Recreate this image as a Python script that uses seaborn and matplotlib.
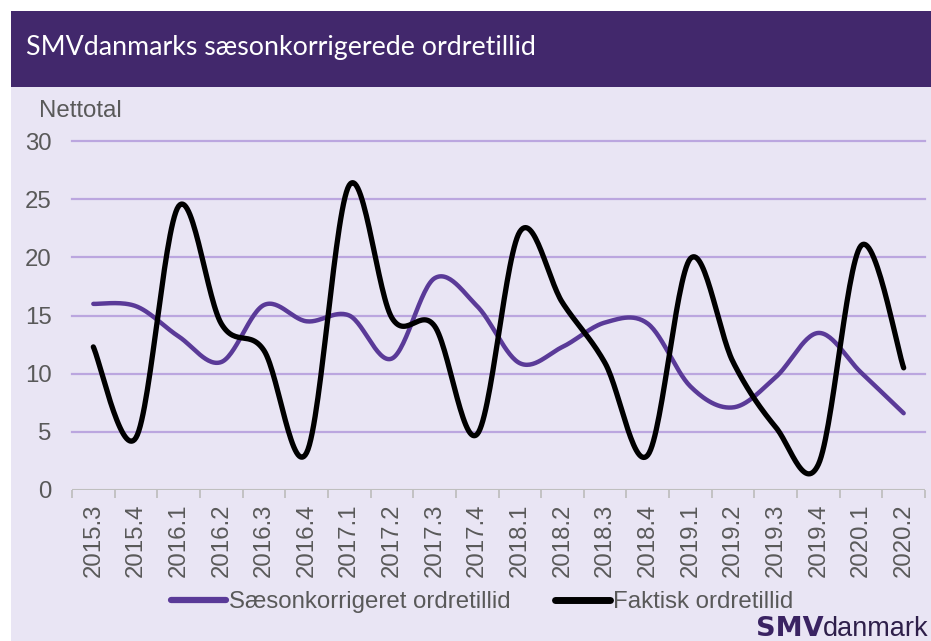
import numpy as np
import pandas as pd
import matplotlib
matplotlib.use("Agg")
import matplotlib.pyplot as plt
import seaborn as sns
from matplotlib.patches import Rectangle
from matplotlib.lines import Line2D

# ---- data ----
quarters = ["2015.3", "2015.4", "2016.1", "2016.2", "2016.3", "2016.4",
            "2017.1", "2017.2", "2017.3", "2017.4", "2018.1", "2018.2",
            "2018.3", "2018.4", "2019.1", "2019.2", "2019.3", "2019.4",
            "2020.1", "2020.2"]
saeson = [16.0, 15.8, 13.2, 11.0, 15.9, 14.5, 15.0, 11.3, 18.2, 15.8,
          10.9, 12.3, 14.4, 14.3, 8.9, 7.1, 9.7, 13.5, 10.1, 6.6]
faktisk = [12.3, 4.5, 24.4, 14.3, 12.0, 3.2, 26.2, 14.8, 14.1, 4.8,
           22.2, 16.1, 10.9, 3.0, 19.9, 11.0, 5.4, 2.2, 21.0, 10.5]
series_names = ["Sæsonkorrigeret ordretillid", "Faktisk ordretillid"]
yticks = [0, 5, 10, 15, 20, 25, 30]

title = "SMVdanmarks sæsonkorrigerede ordretillid"
ylabel = "Nettotal"

# ---- colours ----
HEADER = "#42286C"
BG = "#E9E5F4"
PURPLE = "#5A3A98"
GRID = "#BBA6DF"
TEXT = "#595959"
FS = 17.3


def smooth(values, n=30):
    """Catmull-Rom style smoothing like a spreadsheet's smoothed line."""
    p = np.asarray(values, dtype=float)
    x = np.arange(len(p), dtype=float)
    xs, ys = [], []
    for i in range(len(p) - 1):
        p0 = p[i - 1] if i > 0 else p[i]
        p3 = p[i + 2] if i + 2 < len(p) else p[i + 1]
        x0 = x[i - 1] if i > 0 else x[i]
        x3 = x[i + 2] if i + 2 < len(p) else x[i + 1]
        c1y = p[i] + (p[i + 1] - p0) / 6
        c2y = p[i + 1] - (p3 - p[i]) / 6
        c1x = x[i] + (x[i + 1] - x0) / 6
        c2x = x[i + 1] - (x3 - x[i]) / 6
        t = np.linspace(0, 1, n, endpoint=(i == len(p) - 2))
        b0 = (1 - t) ** 3
        b1 = 3 * (1 - t) ** 2 * t
        b2 = 3 * (1 - t) * t ** 2
        b3 = t ** 3
        xs.append(b0 * x[i] + b1 * c1x + b2 * c2x + b3 * x[i + 1])
        ys.append(b0 * p[i] + b1 * c1y + b2 * c2y + b3 * p[i + 1])
    return np.concatenate(xs), np.concatenate(ys)


frames = []
for name, vals in zip(series_names, [saeson, faktisk]):
    sx, sy = smooth(vals)
    frames.append(pd.DataFrame({"x": sx, "y": sy, "serie": name}))
df = pd.concat(frames, ignore_index=True)

W, H = 931, 641
fig = plt.figure(figsize=(W / 100, H / 100), dpi=100, facecolor="white")

# background panels
fig.patches.append(Rectangle((11 / W, 0), 1 - 11 / W, (H - 87) / H,
                             transform=fig.transFigure, facecolor=BG,
                             edgecolor="none", zorder=-5))
fig.patches.append(Rectangle((11 / W, (H - 87) / H), 1 - 11 / W, 76 / H,
                             transform=fig.transFigure, facecolor=HEADER,
                             edgecolor="none", zorder=-5))
fig.text(26 / W, 1 - 47.5 / H, title, color="white", fontsize=19.3,
         family="Lato", va="center", ha="left")

ax = fig.add_axes([72 / W, (H - 490) / H, (925 - 72) / W, (490 - 141) / H])
ax.set_zorder(2)
ax.set_facecolor("none")

sns.lineplot(data=df, x="x", y="y", hue="serie", sort=False, estimator=None,
             palette={series_names[0]: PURPLE, series_names[1]: "black"},
             ax=ax, legend=False)
for line, lw in zip(ax.lines, [3.2, 3.8]):
    line.set_linewidth(lw)
    line.set_solid_capstyle("round")
    line.set_zorder(3)

ax.set_ylim(0, 30)
ax.set_xlim(-0.5, len(quarters) - 0.5)
ax.set_yticks(yticks)
ax.set_yticklabels([str(v) for v in yticks])
for v in yticks[1:]:
    ax.axhline(v, color=GRID, lw=1.6, zorder=0, clip_on=False)
ax.axhline(0, color="#BFBFBF", lw=1.5, zorder=0.5)

ax.set_xticks(np.arange(len(quarters) + 1) - 0.5)
ax.set_xticklabels([])
ax.set_xticks(np.arange(len(quarters)), minor=True)
ax.set_xticklabels(quarters, minor=True, rotation=90)
ax.tick_params(axis="x", which="major", length=6, width=1.3, color="#BFBFBF")
ax.tick_params(axis="x", which="minor", length=0, pad=10,
               labelsize=FS, labelcolor=TEXT)
ax.tick_params(axis="y", length=0, pad=14.5, labelsize=FS, labelcolor=TEXT)
for lab in ax.get_xticklabels(minor=True) + ax.get_yticklabels():
    lab.set_family("Liberation Sans")
for s in ax.spines.values():
    s.set_visible(False)
ax.set_xlabel("")
ax.set_ylabel("")

fig.text(39 / W, 1 - 111 / H, ylabel, color=TEXT, fontsize=FS,
         family="Liberation Sans", va="center", ha="left")

handles = [Line2D([], [], color=PURPLE, lw=4.5, solid_capstyle="round"),
           Line2D([], [], color="black", lw=5, solid_capstyle="round")]
fig.legend(handles, series_names, loc="center left",
           bbox_to_anchor=(149 / W, 1 - 602 / H), ncol=2, frameon=False,
           handlelength=2.3, handletextpad=0.12, columnspacing=1.85,
           prop={"family": "Liberation Sans", "size": FS}, labelcolor=TEXT)

t2 = fig.text(929 / W, 1 - 629 / H, "danmark", color="#2E1F4A", fontsize=19.5,
              family="Liberation Sans", ha="right", va="center")
fig.canvas.draw()
bb = t2.get_window_extent()
fig.text(bb.x0 / W, 1 - 629 / H, "SMV", color="#3A2362", fontsize=19.5,
         family="DejaVu Sans", weight="bold", ha="right", va="center")

fig.savefig("out.png", dpi=100, facecolor="white")
